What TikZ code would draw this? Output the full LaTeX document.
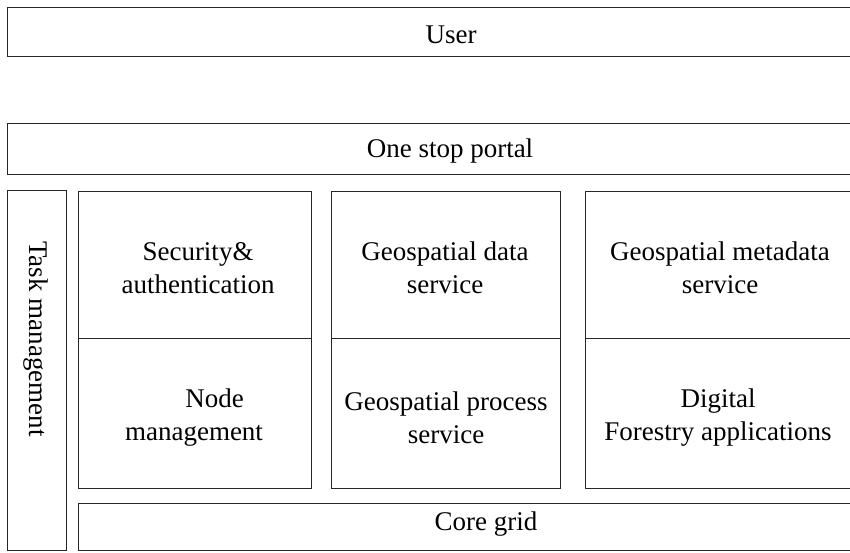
\documentclass[tikz,border=0pt]{standalone}
\usepackage{fontspec}
\setmainfont{Liberation Serif}
\begin{document}
\begin{tikzpicture}[x=1pt,y=-1pt,
  box/.style={draw=black!85, line width=1.3pt, inner sep=0pt, anchor=north west},
  lbl/.style={font=\fontsize{27}{33}\selectfont, align=center, inner sep=0pt, text=black}]
\clip (0,0) rectangle (850,552);
\fill[white] (0,0) rectangle (850,552);
% boxes
\node[box, minimum width=888pt, minimum height=49pt] (user) at (7,7) {};
\node[box, minimum width=888pt, minimum height=51pt] (portal) at (7,123) {};
\node[box, minimum width=59pt, minimum height=360pt] (task) at (7,190) {};
\node[box, minimum width=233pt, minimum height=147pt] (sec) at (78,191) {};
\node[box, minimum width=233pt, minimum height=150pt] (nodem) at (78,338) {};
\node[box, minimum width=229pt, minimum height=147pt] (gdata) at (331,191) {};
\node[box, minimum width=229pt, minimum height=150pt] (gproc) at (331,338) {};
\node[box, minimum width=310pt, minimum height=147pt] (gmeta) at (585,191) {};
\node[box, minimum width=310pt, minimum height=150pt] (dfa) at (585,338) {};
\node[box, minimum width=817pt, minimum height=47pt] (core) at (78,503) {};
% labels
\node[lbl, anchor=base] (tuser) at (451,43) {User};
\node[lbl, anchor=base] (tportal) at (450,157) {One stop portal};
\node[lbl, anchor=base] (tcore) at (486,530) {Core grid};
\node[lbl, rotate=-90] (ttask) at (36,339) {Task management};
\node[lbl] (tsec) at (198,268) {Security\&\\authentication};
\node[lbl] (tgdata) at (445,268) {Geospatial data\\service};
\node[lbl] (tgmeta) at (720,268) {Geospatial metadata\\service};
\node[lbl] (tnodem) at (194,418) {\hspace*{41pt}Node\\management};
\node[lbl] (tgproc) at (446,418) {Geospatial process\\service};
\node[lbl] (tdfa) at (718,418) {Digital\\Forestry applications};
\end{tikzpicture}
\end{document}
